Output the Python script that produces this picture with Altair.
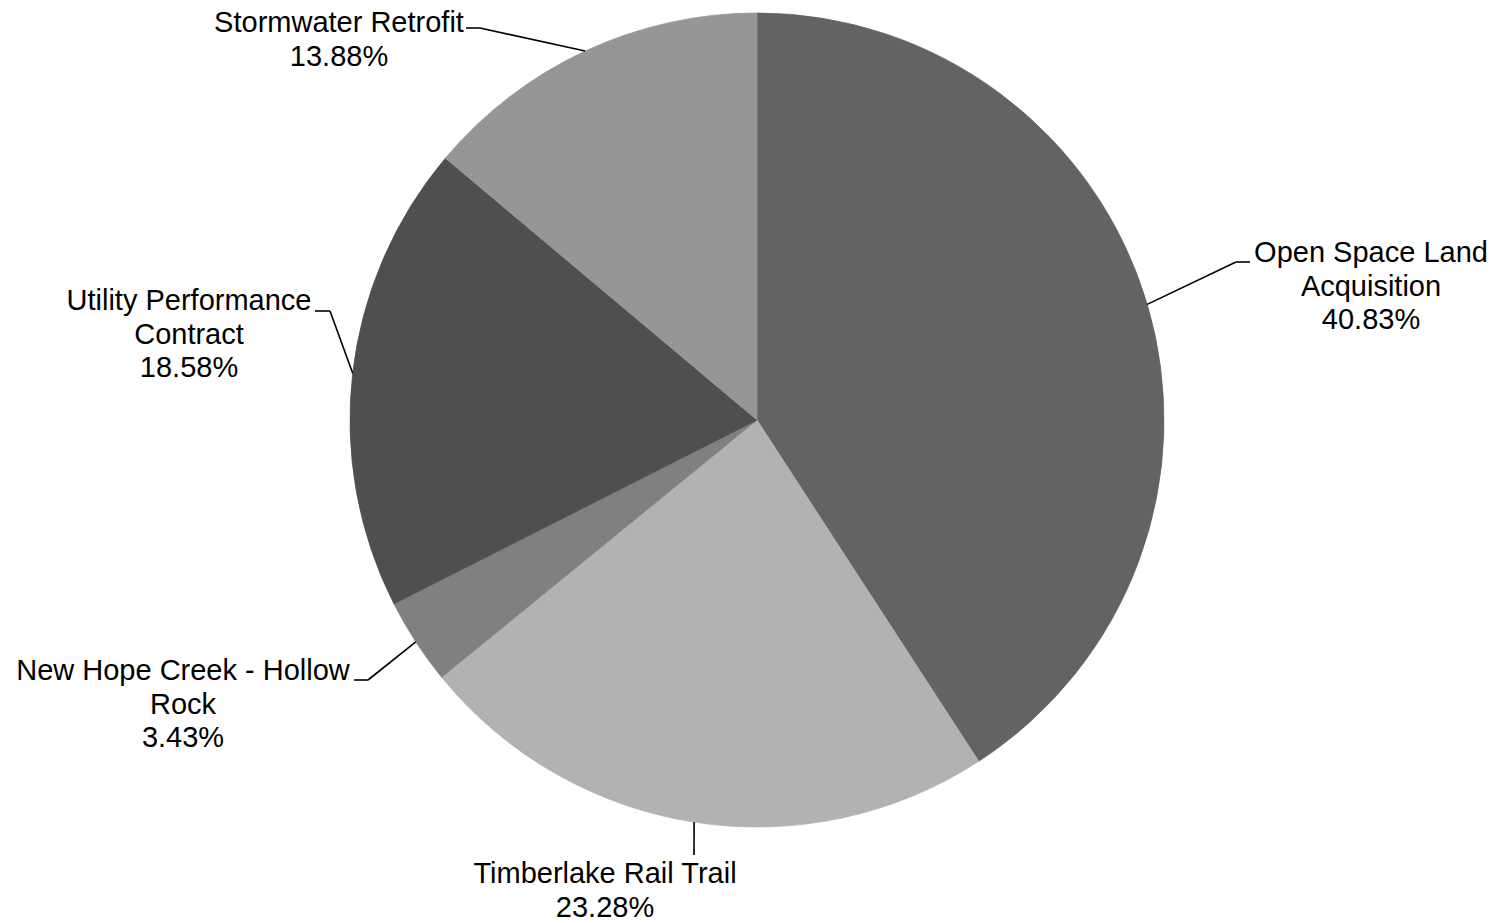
import altair as alt
import pandas as pd

# ---- data ----
categories = [
    "Open Space Land Acquisition",
    "Timberlake Rail Trail",
    "New Hope Creek - Hollow Rock",
    "Utility Performance Contract",
    "Stormwater Retrofit",
]
shares = [40.83, 23.28, 3.43, 18.58, 13.88]
label_text = [
    "Open Space Land\nAcquisition\n40.83%",
    "Timberlake Rail Trail\n23.28%",
    "New Hope Creek - Hollow\nRock\n3.43%",
    "Utility Performance\nContract\n18.58%",
    "Stormwater Retrofit\n13.88%",
]

# ---- styling / layout ----
colors = ["#636363", "#b2b2b2", "#808080", "#4f4f4f", "#969696"]
CX, CY, R = 757, 420, 407
W, H = 1501, 923
FONT = "Liberation Sans"
# label layout (leader elbow, leader end, first text line centre)
elbow = {
    categories[0]: (1236, 262), categories[1]: (694, 855), categories[2]: (368, 680),
    categories[3]: (330, 311), categories[4]: (480, 28),
}
leader_end = {
    categories[0]: (1250, 262), categories[1]: (694, 855), categories[2]: (354, 680),
    categories[3]: (315, 311), categories[4]: (466, 28),
}
text_pos = {
    categories[0]: (1371, 253), categories[1]: (605, 874), categories[2]: (183, 671),
    categories[3]: (189, 301), categories[4]: (339, 23),
}

df = pd.DataFrame({
    "category": categories,
    "share": shares,
    "label": label_text,
    "idx": list(range(len(categories))),
    "ex": [elbow[c][0] for c in categories],
    "ey": [elbow[c][1] for c in categories],
    "lx": [leader_end[c][0] for c in categories],
    "ly": [leader_end[c][1] for c in categories],
    "tx": [text_pos[c][0] for c in categories],
    "ty": [text_pos[c][1] for c in categories],
})

base = alt.Chart(df)

color_scale = alt.Scale(domain=categories, range=colors)

pie = base.mark_arc(outerRadius=R, strokeWidth=0.8).encode(
    theta=alt.Theta("share:Q", stack=True, scale=alt.Scale(type="linear")),
    order=alt.Order("idx:Q"),
    color=alt.Color("category:N", scale=color_scale, legend=None),
    stroke=alt.Stroke("category:N", scale=color_scale, legend=None),
    x=alt.value(CX),
    y=alt.value(CY),
)

geo = base.transform_joinaggregate(
    total="sum(share)"
).transform_window(
    cum="sum(share)", sort=[alt.SortField("idx")], frame=[None, 0]
).transform_calculate(
    mid="(datum.cum - datum.share/2) / datum.total * 2 * PI",
).transform_calculate(
    sx=f"{CX} + {R} * sin(datum.mid)",
    sy=f"{CY} - {R} * cos(datum.mid)",
)

leader1 = geo.mark_rule(color="black", strokeWidth=1.6).encode(
    x=alt.X("sx:Q", scale=None, axis=None),
    y=alt.Y("sy:Q", scale=None, axis=None),
    x2="ex:Q",
    y2="ey:Q",
)
leader2 = base.mark_rule(color="black", strokeWidth=1.6).encode(
    x=alt.X("ex:Q", scale=None, axis=None),
    y=alt.Y("ey:Q", scale=None, axis=None),
    x2="lx:Q",
    y2="ly:Q",
)

labels = base.mark_text(
    font=FONT, fontSize=29, color="black", align="center", baseline="middle",
    lineBreak="\n", lineHeight=33.5,
).encode(
    x=alt.X("tx:Q", scale=None, axis=None),
    y=alt.Y("ty:Q", scale=None, axis=None),
    text="label:N",
)

chart = alt.layer(pie, leader1, leader2, labels).properties(
    width=W, height=H, padding=0, autosize=alt.AutoSizeParams(type="none"),
    background="white",
).configure_view(strokeWidth=0)

chart.save("out.html", embed_options={"renderer": "svg", "actions": False})
